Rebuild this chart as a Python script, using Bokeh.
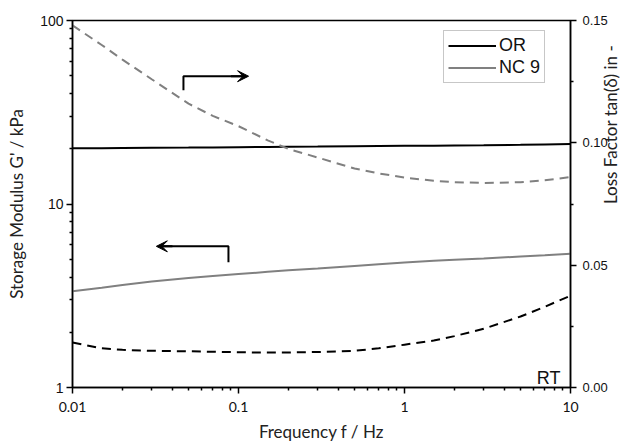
import math
from bokeh.plotting import figure
from bokeh.models import (Range1d, LinearAxis, FixedTicker, Arrow, VeeHead, Label,
                          ColumnDataSource, LinearScale, Legend, LegendItem)
from bokeh.embed import file_html
from bokeh.resources import INLINE

# ---- data ----
freq = [0.01, 0.015, 0.02, 0.03, 0.05, 0.07, 0.1, 0.15, 0.2, 0.3, 0.5, 0.7,
        1, 1.5, 2, 3, 5, 7, 10]
or_storage = [20.1, 20.15, 20.2, 20.25, 20.3, 20.35, 20.4, 20.45, 20.5, 20.55,
              20.65, 20.7, 20.75, 20.8, 20.85, 20.9, 21.0, 21.1, 21.2]
nc9_storage = [3.35, 3.5, 3.62, 3.78, 3.95, 4.05, 4.15, 4.27, 4.35, 4.45, 4.6,
               4.7, 4.8, 4.9, 4.97, 5.05, 5.17, 5.25, 5.35]
nc9_loss = [0.148, 0.140, 0.134, 0.126, 0.116, 0.111, 0.1068, 0.101, 0.0975,
            0.094, 0.0895, 0.0875, 0.0858, 0.0845, 0.0839, 0.0836, 0.0839,
            0.0847, 0.0860]
or_loss = [0.0184, 0.0160, 0.0154, 0.0150, 0.0148, 0.0146, 0.0144, 0.0143,
           0.0143, 0.0145, 0.0150, 0.0160, 0.0175, 0.0192, 0.0210, 0.0240,
           0.0290, 0.0330, 0.0375]

x_ticks = [0.01, 0.1, 1, 10]
x_tick_labels = ["0.01", "0.1", "1", "10"]
y_ticks = [1, 10, 100]
y_tick_labels = ["1", "10", "100"]
loss_ticks = [0.0, 0.05, 0.10, 0.15]
loss_tick_labels = ["0.00", "0.05", "0.10", "0.15"]
loss_minor = [0.025, 0.075, 0.125]

src = ColumnDataSource(dict(f=freq, ors=or_storage, ncs=nc9_storage,
                            ncl=nc9_loss, orl=or_loss))

p = figure(width=635, height=444, x_axis_type="log", y_axis_type="log",
           x_range=Range1d(0.01, 10), y_range=Range1d(1, 100),
           output_backend="svg", toolbar_location=None,
           min_border_left=72, min_border_right=65, min_border_top=20,
           min_border_bottom=57)
p.extra_y_ranges = {"loss": Range1d(0, 0.15)}
p.extra_y_scales = {"loss": LinearScale()}
p.xgrid.visible = False
p.ygrid.visible = False
p.outline_line_color = "black"
p.outline_line_width = 1.5
p.outline_line_alpha = 1.0
p.background_fill_color = "white"
p.border_fill_color = "white"

log_minor = lambda majors: [k * m for m in majors[:-1] for k in range(2, 10)]

right = LinearAxis(y_range_name="loss")
p.add_layout(right, "right")

p.xaxis[0].ticker = FixedTicker(ticks=x_ticks, minor_ticks=log_minor(x_ticks))
p.xaxis[0].major_label_overrides = dict(zip(x_ticks, x_tick_labels))
p.yaxis[0].ticker = FixedTicker(ticks=y_ticks, minor_ticks=log_minor(y_ticks))
p.yaxis[0].major_label_overrides = dict(zip(y_ticks, y_tick_labels))
right.ticker = FixedTicker(ticks=loss_ticks, minor_ticks=loss_minor)
right.major_label_overrides = dict(zip(loss_ticks, loss_tick_labels))

for ax in [p.xaxis[0], p.yaxis[0], right]:
    ax.axis_line_color = "black"
    ax.axis_line_width = 1.5
    ax.major_tick_line_color = "black"
    ax.major_tick_line_width = 1.5
    ax.minor_tick_line_color = "black"
    ax.minor_tick_line_width = 1.5
    ax.major_tick_in = 0
    ax.major_tick_out = 6
    ax.minor_tick_in = 0
    ax.minor_tick_out = 3
    ax.major_label_text_color = "#111111"
    ax.axis_label_text_color = "#222222"
    ax.axis_label_text_font = "Lato"
    ax.axis_label_text_font_style = "normal"
    ax.axis_label_text_font_size = "17px"

p.xaxis[0].major_label_text_font = "Lato"
p.xaxis[0].major_label_text_font_size = "14px"
p.xaxis[0].major_label_standoff = 8
p.xaxis[0].axis_label = "Frequency f / Hz"
p.xaxis[0].axis_label_standoff = 6

p.yaxis[0].major_label_text_font = "Liberation Sans"
p.yaxis[0].major_label_text_font_size = "14px"
p.yaxis[0].major_label_standoff = 3
p.yaxis[0].axis_label = "Storage Modulus G' / kPa"
p.yaxis[0].axis_label_standoff = 10

right.major_label_text_font = "Liberation Sans"
right.major_label_text_font_size = "13px"
right.major_label_standoff = 6
right.axis_label = "Loss Factor tan(δ) in -"
right.axis_label_standoff = 0
right.axis_label_orientation = math.pi / 2

# lines
gray = "#808080"
r_or = p.line("f", "ors", source=src, line_color="black", line_width=2)
r_nc = p.line("f", "ncs", source=src, line_color=gray, line_width=2)
p.line("f", "ncl", source=src, line_color=gray, line_width=2,
       line_dash="9 6", y_range_name="loss")
p.line("f", "orl", source=src, line_color="black", line_width=2,
       line_dash="9 6", y_range_name="loss")

# arrows
p.line([0.0466, 0.0466, 0.11], [41.7, 49.7, 49.7], line_color="black",
       line_width=2)
p.add_layout(Arrow(end=VeeHead(size=11, fill_color="black", line_color="black"),
                   x_start=0.09, y_start=49.7, x_end=0.115, y_end=49.7,
                   line_width=2, line_color="black"))
p.line([0.087, 0.087, 0.034], [4.81, 5.88, 5.88], line_color="black",
       line_width=2)
p.add_layout(Arrow(end=VeeHead(size=11, fill_color="black", line_color="black"),
                   x_start=0.04, y_start=5.88, x_end=0.032, y_end=5.88,
                   line_width=2, line_color="black"))

p.add_layout(Label(x=10, y=1, x_offset=-10, y_offset=10, text="RT",
                   text_align="right", text_baseline="alphabetic",
                   text_font="Liberation Sans", text_font_size="18px",
                   text_color="#111111"))

leg = Legend(items=[LegendItem(label="OR", renderers=[r_or]),
                    LegendItem(label="NC 9", renderers=[r_nc])],
             location=(371, 304))
leg.label_text_font = "Liberation Sans"
leg.label_text_font_size = "18px"
leg.label_text_color = "#111111"
leg.glyph_width = 48
leg.glyph_height = 21
leg.label_height = 21
leg.label_standoff = 3
leg.padding = 4
leg.spacing = 1
leg.margin = 0
leg.border_line_color = "#909090"
leg.border_line_width = 1.5
leg.background_fill_alpha = 1.0
p.add_layout(leg)

open("out.html", "w").write(file_html(p, INLINE))
